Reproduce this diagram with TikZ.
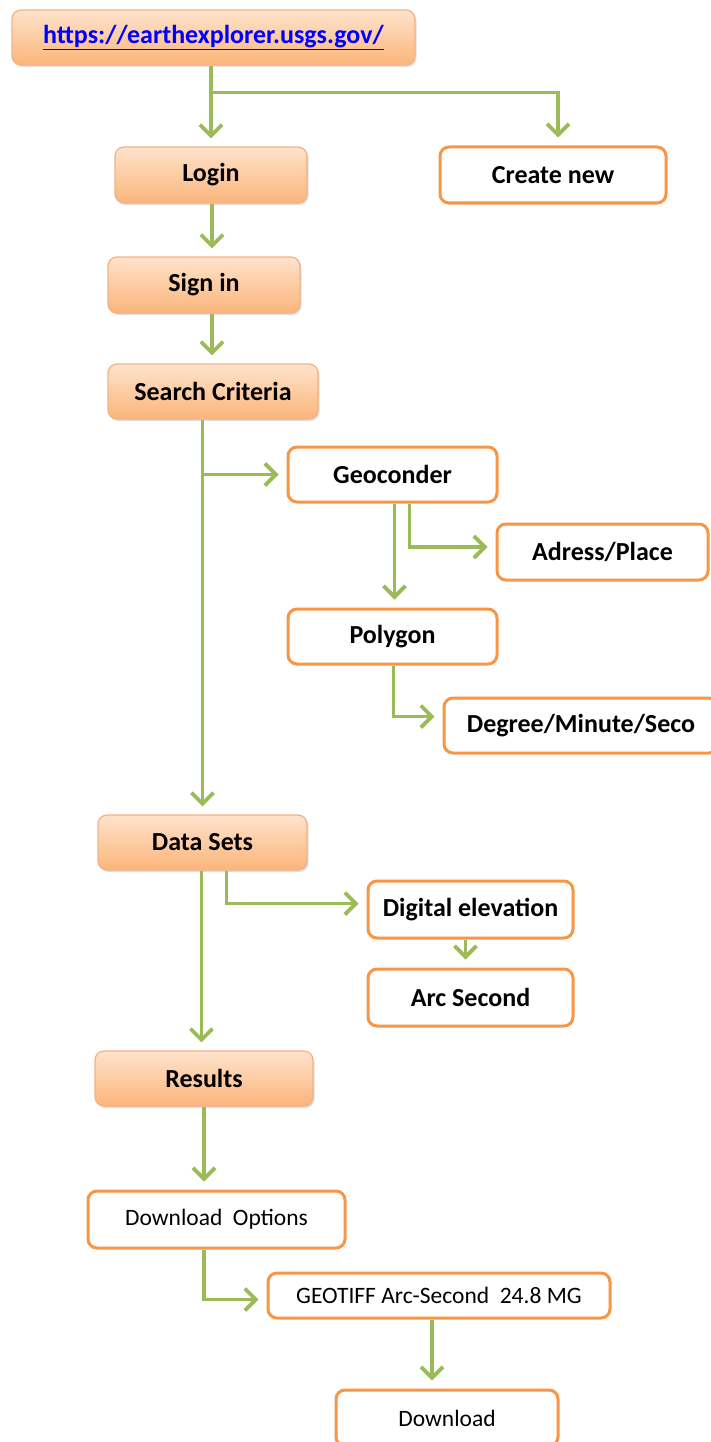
\documentclass[tikz,border=0pt]{standalone}
\usepackage{fontspec}
\setmainfont{Carlito}
\usetikzlibrary{arrows.meta,shadows}
\definecolor{grn}{HTML}{9BBB59}
\definecolor{org}{HTML}{F79646}
\definecolor{orgline}{HTML}{F4B183}
\definecolor{orgtop}{HTML}{FEE3CC}
\definecolor{orgbot}{HTML}{FBB57A}
\definecolor{linkblue}{HTML}{0000FF}
\tikzset{
  fillbox/.style={draw=orgline, line width=1.2pt, rounded corners=9pt,
    top color=orgtop, bottom color=orgbot,
    drop shadow={shadow xshift=1.5pt, shadow yshift=-2pt, opacity=0.25},
    font=\fontsize{26}{30}\selectfont\bfseries, inner sep=0pt},
  whitebox/.style={draw=org, line width=3pt, rounded corners=9pt, fill=white,
    font=\fontsize{26}{30}\selectfont\bfseries, inner sep=0pt},
  plainbox/.style={whitebox, font=\fontsize{23.5}{27}\selectfont},
  conn/.style={draw=grn, line width=3.8pt,
    -{Straight Barb[length=11pt,width=22pt,line width=3.8pt]}, shorten >=8pt}
}
\begin{document}
\begin{tikzpicture}[x=1pt,y=-1pt]
\useasboundingbox (0,0) rectangle (710,1442);
% nodes
\node[fillbox, minimum width=403, minimum height=55] (url) at (213.5,37.5)
  {\color{linkblue}\underline{https://earthexplorer.usgs.gov/}};
\node[fillbox, minimum width=192, minimum height=56] (login) at (211,175) {Login};
\node[whitebox, minimum width=226, minimum height=56] (create) at (553,175) {Create new};
\node[fillbox, minimum width=192, minimum height=56] (signin) at (204,285) {Sign in};
\node[fillbox, minimum width=210, minimum height=55] (search) at (213,391.5) {Search Criteria};
\node[whitebox, minimum width=209, minimum height=55] (geo) at (392.5,474.5) {Geoconder};
\node[whitebox, minimum width=211, minimum height=56] (adress) at (602.5,552) {Adress/Place};
\node[whitebox, minimum width=209, minimum height=55] (poly) at (392.5,636.5) {Polygon};
\node[whitebox, minimum width=274, minimum height=55] (degree) at (581,725.5) {Degree/Minute/Seco};
\node[fillbox, minimum width=209, minimum height=55] (datasets) at (202.5,842.5) {Data Sets};
\node[whitebox, minimum width=205, minimum height=57] (digital) at (470.5,909.5) {Digital elevation};
\node[whitebox, minimum width=205, minimum height=57] (arc) at (470.5,997.5) {Arc Second};
\node[fillbox, minimum width=218, minimum height=55] (results) at (204,1078.5) {Results};
\node[plainbox, minimum width=257, minimum height=57] (dopt) at (216.5,1219.5) {Download~ Options};
\node[plainbox, minimum width=342, minimum height=45] (geotiff) at (439,1295.5) {GEOTIFF Arc-Second~ 24.8 MG};
\node[plainbox, minimum width=222, minimum height=56] (download) at (447,1418) {Download};
% connectors
\coordinate (b1) at ([yshift=-27pt]login|-url.south);
\draw[conn] (login|-url.south) -- (login.north);
\draw[conn] (b1) -| ([xshift=5pt]create.north);
\draw[conn] ([xshift=1pt]login.south) -- ([xshift=1pt]login.south|-signin.north);
\draw[conn] ([xshift=8pt]signin.south) -- ([xshift=8pt]signin.south|-search.north);
\coordinate (b2) at (datasets|-geo.west);
\draw[conn] (datasets|-search.south) -- (datasets.north);
\draw[conn] (b2) -- (geo.west);
\draw[conn] ([xshift=2pt]geo.south) -- ([xshift=2pt]geo.south|-poly.north);
\draw[conn] ([xshift=17pt]geo.south) |- ([yshift=5pt]adress.west);
\draw[conn] ([xshift=1pt]poly.south) |- ([yshift=9pt]degree.west);
\draw[conn] ([xshift=-1pt]datasets.south) -- ([xshift=-1pt]datasets.south|-results.north);
\draw[conn] ([xshift=24pt]datasets.south) |- ([yshift=6pt]digital.west);
\draw[conn] ([xshift=-5pt]digital.south) -- ([xshift=-5pt]digital.south|-arc.north);
\draw[conn] (results.south) -- (results.south|-dopt.north);
\draw[conn] (results.south|-dopt.south) |- ([yshift=-4pt]geotiff.west);
\draw[conn] ([xshift=-7pt]geotiff.south) -- ([xshift=-7pt]geotiff.south|-download.north);
\end{tikzpicture}
\end{document}
